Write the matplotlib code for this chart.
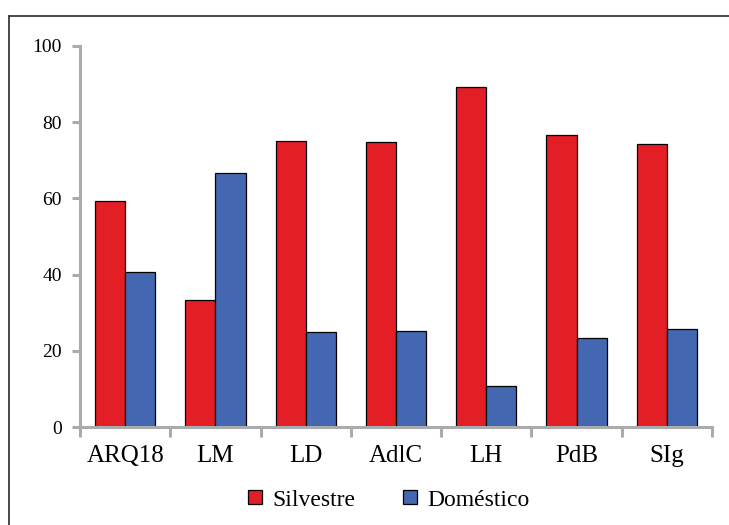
import numpy as np
import matplotlib.pyplot as plt
from matplotlib.lines import Line2D

categories = ["ARQ18", "LM", "LD", "AdlC", "LH", "PdB", "SIg"]
silvestre = [59.2, 33.3, 75.0, 74.8, 89.2, 76.6, 74.3]
domestico = [40.8, 66.7, 25.0, 25.2, 10.8, 23.4, 25.7]
yticks = [0, 20, 40, 60, 80, 100]

RED = "#e31e25"
BLUE = "#4367b1"
GREY = "#a9abad"

plt.rcParams["font.family"] = ["Liberation Serif", "DejaVu Serif"]


def main():
    fig = plt.figure(figsize=(7.29, 5.25), dpi=100)
    ax = fig.add_axes([80 / 729, 1 - 427 / 525, 632 / 729, 381 / 525])

    x = np.arange(len(categories))
    w = 1 / 3
    ax.bar(x - w / 2, silvestre, width=w, color=RED, edgecolor="black",
           linewidth=0.9, label="Silvestre")
    ax.bar(x + w / 2, domestico, width=w, color=BLUE, edgecolor="black",
           linewidth=0.9, label="Doméstico")

    ax.set_xlim(-0.5, len(categories) - 0.5)
    ax.set_ylim(0, 100)

    # axes styling: grey left/bottom spines only
    for s in ["top", "right"]:
        ax.spines[s].set_visible(False)
    for s in ["left", "bottom"]:
        ax.spines[s].set_color(GREY)
        ax.spines[s].set_linewidth(2.2)

    ax.set_yticks(yticks)
    ax.tick_params(axis="y", direction="out", length=6, width=2.2, color=GREY,
                   labelsize=14, pad=7)

    ax.set_xticks(x)
    ax.set_xticklabels(categories)
    ax.set_xticks(np.arange(len(categories) + 1) - 0.5, minor=True)
    ax.tick_params(axis="x", which="major", length=0, labelsize=18, pad=13)
    ax.tick_params(axis="x", which="minor", direction="out", length=7,
                   width=2.2, color=GREY)

    fig.legend(loc="center", bbox_to_anchor=(389 / 729, 1 - 500 / 525),
               ncol=2, frameon=False, fontsize=17, handlelength=0.6,
               handleheight=0.55, columnspacing=2.0, handletextpad=0.45)

    # outer frame (partly cut off on the right and bottom)
    fx, fy = 8.5 / 729, 1 - 15.5 / 525
    fig.add_artist(Line2D([fx, 1.0], [fy, fy], transform=fig.transFigure,
                          color="#3a3a3a", linewidth=1.3))
    fig.add_artist(Line2D([fx, fx], [0, fy], transform=fig.transFigure,
                          color="#3a3a3a", linewidth=1.3))

    fig.savefig("out.png", dpi=100)


if __name__ == "__main__":
    main()
